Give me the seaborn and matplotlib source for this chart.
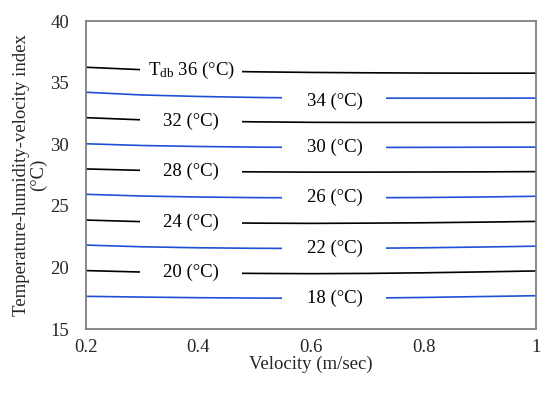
import numpy as np
import pandas as pd
import matplotlib
matplotlib.use("Agg")
import matplotlib.pyplot as plt
from matplotlib.patches import Rectangle
import seaborn as sns

# Datos: indice THVI frente a velocidad del aire
velocidad = [0.2, 0.3, 0.4, 0.5, 0.6, 0.7, 0.8, 0.9, 1.0]
tdb_36 = [36.25, 36.05, 35.95, 35.88, 35.83, 35.80, 35.78, 35.77, 35.77]
tdb_34 = [34.22, 34.00, 33.88, 33.80, 33.75, 33.74, 33.74, 33.74, 33.75]
tdb_32 = [32.16, 31.98, 31.88, 31.82, 31.78, 31.77, 31.77, 31.77, 31.78]
tdb_30 = [30.04, 29.90, 29.82, 29.77, 29.74, 29.74, 29.75, 29.76, 29.77]
tdb_28 = [28.00, 27.88, 27.80, 27.76, 27.74, 27.74, 27.75, 27.76, 27.78]
tdb_26 = [25.94, 25.80, 25.72, 25.67, 25.65, 25.66, 25.68, 25.72, 25.78]
tdb_24 = [23.85, 23.72, 23.65, 23.60, 23.58, 23.60, 23.63, 23.68, 23.74]
tdb_22 = [21.82, 21.68, 21.60, 21.56, 21.54, 21.56, 21.60, 21.66, 21.73]
tdb_20 = [19.75, 19.63, 19.56, 19.52, 19.50, 19.52, 19.57, 19.64, 19.72]
tdb_18 = [17.66, 17.60, 17.55, 17.52, 17.50, 17.52, 17.57, 17.64, 17.71]

series = {36: tdb_36, 34: tdb_34, 32: tdb_32, 30: tdb_30, 28: tdb_28,
          26: tdb_26, 24: tdb_24, 22: tdb_22, 20: tdb_20, 18: tdb_18}
etiquetas = {t: f"{t} (°C)" for t in series}
etiquetas[36] = r"T$_{\rm db}$ 36 (°C)"

# DataFrame en formato largo para seaborn
df = pd.DataFrame({
    "Velocidad": velocidad * len(series),
    "THVI": sum(series.values(), []),
    "Tdb": np.repeat(list(series.keys()), len(velocidad)),
})

negro = "#000000"
azul = "#1f4fd6"
paleta = {t: (negro if t % 4 == 0 else azul) for t in series}

sns.set_style("white")
plt.rcParams["font.family"] = ["Liberation Serif", "DejaVu Serif"]
plt.rcParams["mathtext.fontset"] = "custom"
plt.rcParams["mathtext.rm"] = "Liberation Serif"
plt.rcParams["mathtext.it"] = "Liberation Serif:italic"

fig = plt.figure(figsize=(5.5, 3.97), dpi=100)
ax = fig.add_axes([0.156, 0.171, 0.819, 0.776])

sns.lineplot(data=df, x="Velocidad", y="THVI", hue="Tdb", palette=paleta,
             linewidth=1.2, legend=False, ax=ax, zorder=2)

# huecos en las lineas donde van las etiquetas
hueco_negro = (0.296, 0.478)
hueco_azul = (0.549, 0.734)
x_etq_negro = 0.387
x_etq_azul = 0.642

for t, vals in series.items():
    g0, g1 = hueco_negro if t % 4 == 0 else hueco_azul
    yc = np.interp((g0 + g1) / 2, velocidad, vals)
    ax.add_patch(Rectangle((g0, yc - 0.55), g1 - g0, 1.1, facecolor="white",
                           edgecolor="none", zorder=3))
    xe = x_etq_negro if t % 4 == 0 else x_etq_azul
    ye = np.interp(xe, velocidad, vals)
    if t == 34:
        ye -= 0.3
    ax.text(xe, ye, etiquetas[t], ha="center", va="center", fontsize=13.5,
            color="black", zorder=4)

ax.set_xlim(0.2, 1.0)
ax.set_ylim(15, 40)
ax.set_xticks([0.2, 0.4, 0.6, 0.8, 1.0])
ax.set_xticklabels(["0.2", "0.4", "0.6", "0.8", "1"])
ax.set_yticks([15, 20, 25, 30, 35, 40])
ax.tick_params(axis="both", length=0, labelsize=13.5)
ax.tick_params(axis="y", pad=12)
ax.tick_params(axis="x", pad=7)

for s in ax.spines.values():
    s.set_color("#7f7f7f")
    s.set_linewidth(1.3)

ax.set_xlabel("Velocity (m/sec)", fontsize=13.5, labelpad=0)
ax.set_ylabel("Temperature-humidity-velocity index\n(°C)", fontsize=13.5,
              labelpad=2, linespacing=1.05)

fig.savefig("out.png", dpi=100)
